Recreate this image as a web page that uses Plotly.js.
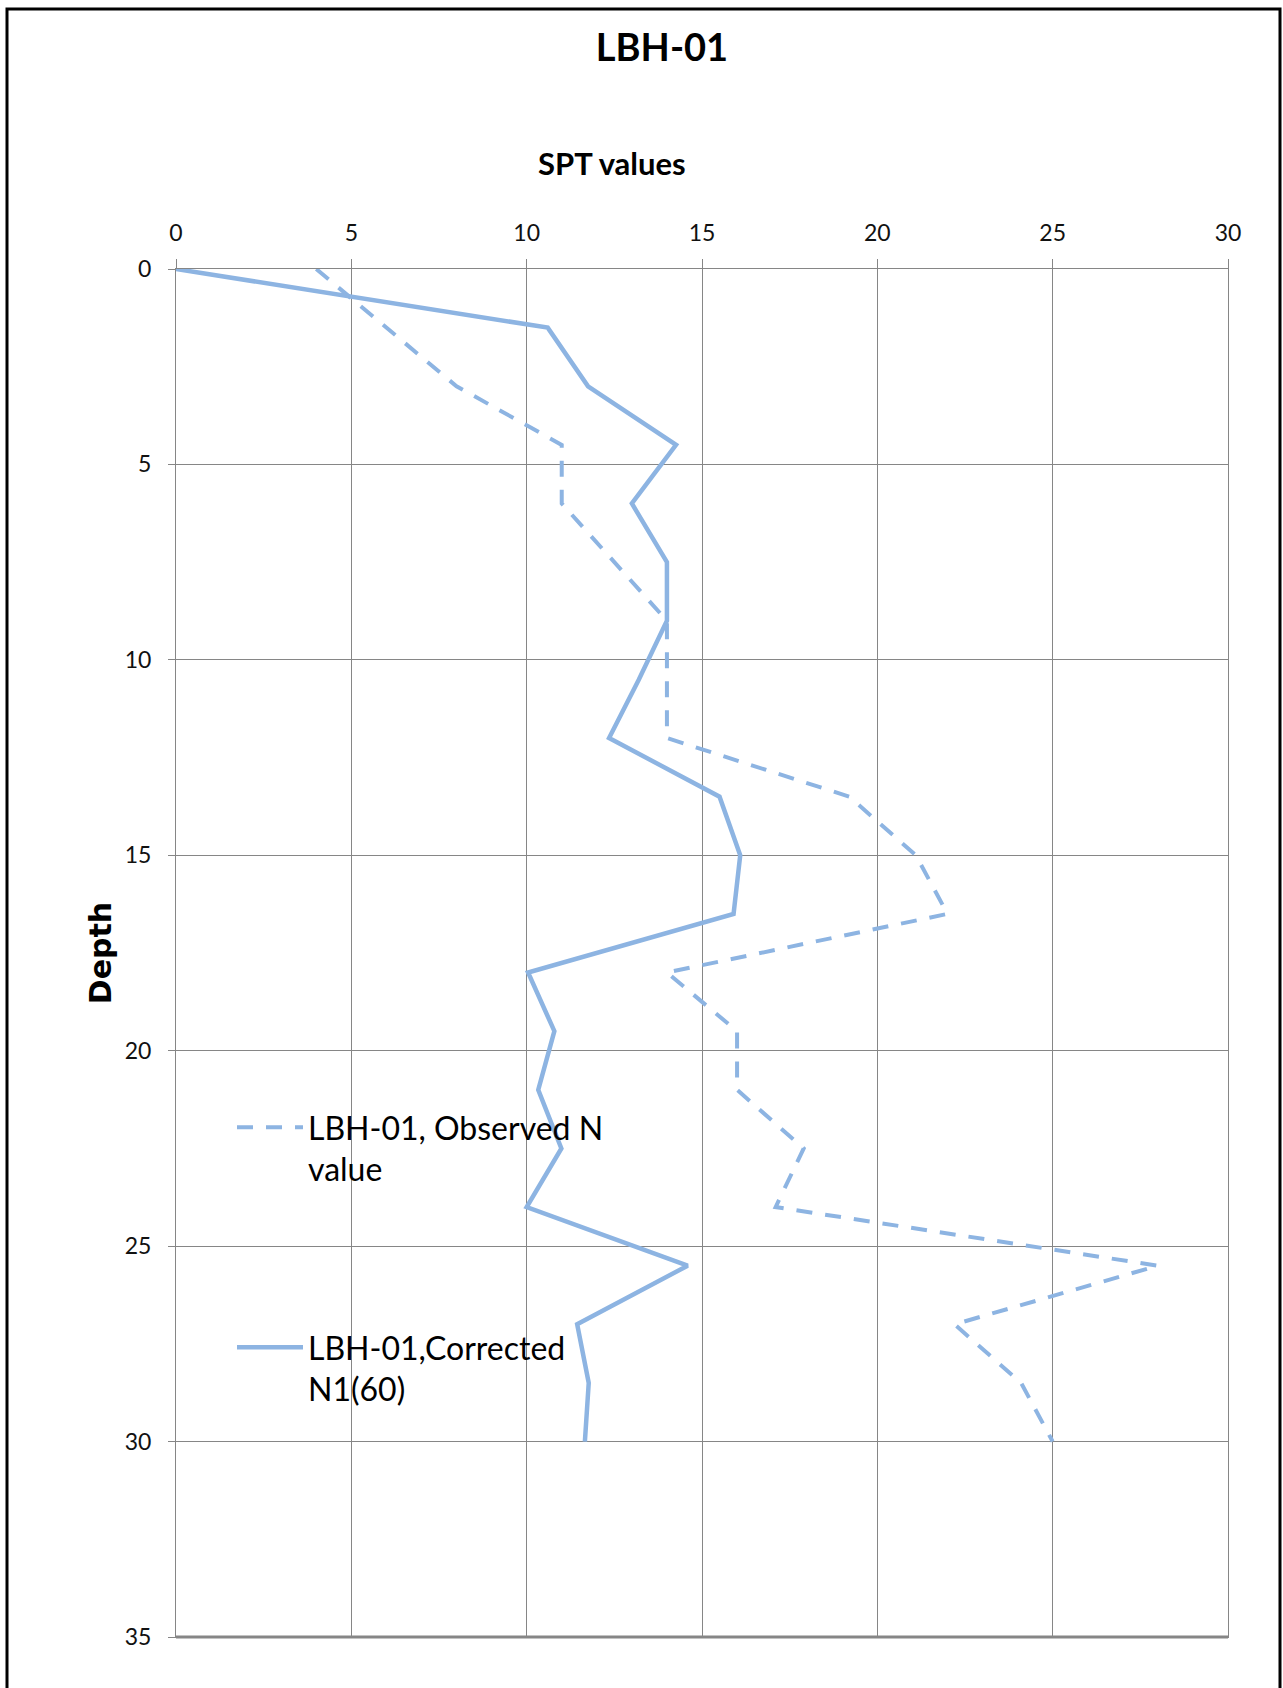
<!DOCTYPE html>
<html>
<head>
<meta charset="utf-8">
<script src="https://cdn.plot.ly/plotly-3.0.1.min.js"></script>
<style>
  html, body { margin: 0; padding: 0; background: #fff; }
  #chart { width: 1283px; height: 1688px; }
</style>
</head>
<body>
<div id="chart"></div>
<script>
// Depth (m) of each SPT reading
const depth = [0, 1.5, 3, 4.5, 6, 7.5, 9, 10.5, 12, 13.5, 15, 16.5, 18, 19.5, 21, 22.5, 24, 25.5, 27, 28.5, 30];
// LBH-01, Observed N value
const observedN = [4, 6, 8, 11, 11, 12.5, 14, 14, 14, 19.2, 21.1, 22, 14, 16, 16, 17.9, 17.1, 28, 22.2, 24.1, 25];
// LBH-01, Corrected N1(60)
const correctedN160 = [0, 10.6, 11.75, 14.26, 13.0, 14.0, 14.0, 13.2, 12.35, 15.5, 16.09, 15.9, 10.04, 10.79, 10.33, 10.99, 10.0, 14.59, 11.44, 11.77, 11.66];

const seriesNames = ['LBH-01, Observed N<br>value', 'LBH-01,Corrected<br>N1(60)'];
const xTicks = [0, 5, 10, 15, 20, 25, 30];
const yTicks = [0, 5, 10, 15, 20, 25, 30, 35];

const W = 1283, H = 1688;
const M = { l: 176, r: 55, t: 269, b: 51 };
const plotW = W - M.l - M.r, plotH = H - M.t - M.b;
const px2x = p => (p - M.l) / plotW;
const px2y = p => 1 - (p - M.t) / plotH;

const blue = '#8db4e2';
const grid = '#868686';
const sans = 'Lato, "Open Sans", sans-serif';

const traces = [
  {
    x: observedN, y: depth, type: 'scatter', mode: 'lines',
    name: seriesNames[0],
    line: { color: blue, width: 4, dash: '16px,13px' },
    legend: 'legend'
  },
  {
    x: correctedN160, y: depth, type: 'scatter', mode: 'lines',
    name: seriesNames[1],
    line: { color: blue, width: 4.5 },
    legend: 'legend2'
  }
];

const legendCommon = {
  bgcolor: 'rgba(0,0,0,0)', borderwidth: 0,
  font: { family: sans, size: 32, color: '#000' },
  itemwidth: 66, valign: 'top',
  xanchor: 'left', yanchor: 'top'
};

const layout = {
  width: W, height: H,
  margin: M,
  paper_bgcolor: '#fff', plot_bgcolor: '#fff',
  showlegend: true,
  title: {
    text: '<b>LBH-01</b>',
    font: { family: sans, size: 38, color: '#000' },
    xref: 'container', yref: 'container',
    x: 662 / W, xanchor: 'center',
    y: 1 - 48 / H, yanchor: 'middle'
  },
  xaxis: {
    side: 'top', range: [0, 30], tickvals: xTicks,
    showgrid: true, gridcolor: grid, gridwidth: 1,
    zeroline: false, showline: true, mirror: true, linecolor: grid, linewidth: 1,
    ticks: 'outside', ticklen: 9, tickcolor: grid, tickwidth: 1,
    tickfont: { family: sans, size: 23, color: '#111' },
    ticklabelstandoff: 9
  },
  yaxis: {
    range: [35, 0], tickvals: yTicks,
    showgrid: true, gridcolor: grid, gridwidth: 1,
    zeroline: false, showline: true, mirror: true, linecolor: grid, linewidth: 1,
    ticks: 'outside', ticklen: 7, tickcolor: grid, tickwidth: 1,
    tickfont: { family: sans, size: 23, color: '#111' },
    ticklabelstandoff: 12,
    title: {
      text: '<b>Depth</b>',
      font: { family: '"DejaVu Sans", sans-serif', size: 30, color: '#000' },
      standoff: 4
    }
  },
  legend: Object.assign({}, legendCommon, { x: px2x(232), y: px2y(1100) }),
  legend2: Object.assign({}, legendCommon, { x: px2x(232), y: px2y(1320) }),
  annotations: [
    {
      text: '<b>SPT values</b>', showarrow: false,
      xref: 'paper', yref: 'paper',
      x: px2x(612), y: px2y(163), xanchor: 'center', yanchor: 'middle',
      font: { family: sans, size: 31, color: '#000' }
    }
  ],
  shapes: [
    { type: 'line', xref: 'paper', yref: 'paper', x0: 0, x1: 1, y0: 0, y1: 0,
      line: { color: grid, width: 3 }, layer: 'above' },
    { type: 'rect', xref: 'paper', yref: 'paper',
      x0: px2x(7), x1: px2x(1280), y0: px2y(9), y1: px2y(1720),
      line: { color: '#000', width: 3 }, fillcolor: 'rgba(0,0,0,0)', layer: 'above' }
  ]
};

Plotly.newPlot('chart', traces, layout, { displayModeBar: false, responsive: false });
</script>
</body>
</html>
